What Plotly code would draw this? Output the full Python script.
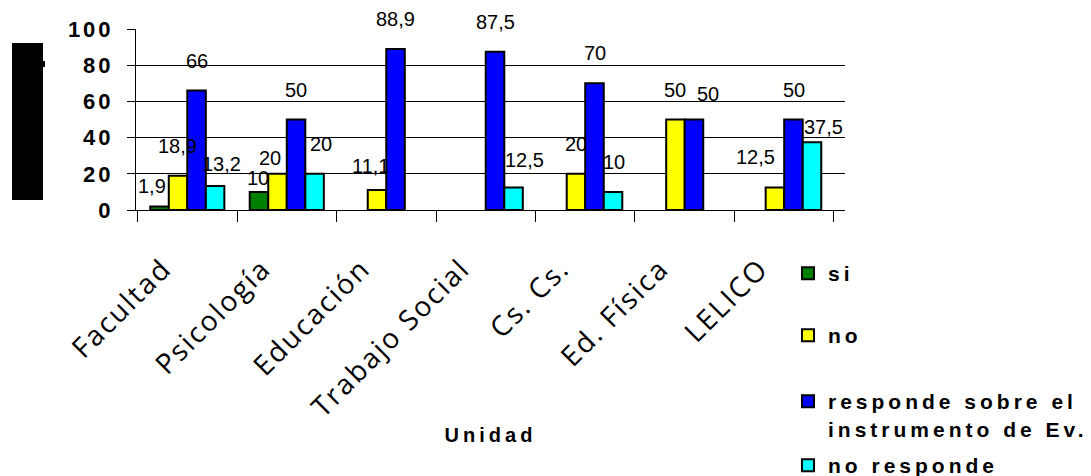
import plotly.graph_objects as go

# Units surveyed and answer categories
unidades = ["Facultad", "Psicología", "Educación", "Trabajo Social", "Cs. Cs.", "Ed. Física", "LELICO"]
series_names = ["si", "no", "responde sobre el instrumento de Ev.", "no responde"]
legend_lines = [["si"], ["no"], ["responde sobre el", "instrumento de Ev."], ["no responde"]]

# Percentages per unit (None = no bar)
si = [1.9, 10, None, None, None, None, None]
no = [18.9, 20, 11.1, None, 20, 50, 12.5]
responde = [66, 50, 88.9, 87.5, 70, 50, 50]
no_responde = [13.2, 20, None, 12.5, 10, None, 37.5]

y_ticks = [0, 20, 40, 60, 80, 100]

colors = ["#008000", "#FFFF00", "#0000FF", "#00FFFF"]
series_values = [si, no, responde, no_responde]

# Frame geometry (pixels)
W, H = 1091, 476
M_L, M_R, M_T, M_B = 136, 246, 29, 266
PW = W - M_L - M_R
PH = H - M_T - M_B
BARGAP = 0.255


def px(x):
    return (x - M_L) / PW


def py(y):
    return (M_T + PH - y) / PH


def spaced(text, sp):
    return f'<span style="letter-spacing:{sp}px">{text}</span>'


def fmt(v):
    return f"{v:g}".replace(".", ",")


fig = go.Figure()
legend_ids = ["legend", "legend2", "legend3", "legend4"]
for name, vals, col, lid, lines in zip(series_names, series_values, colors, legend_ids, legend_lines):
    fig.add_trace(go.Bar(
        x=unidades, y=vals, name="<br>".join(spaced(f"<b>{t}</b>", 4) for t in lines),
        marker=dict(color=col, line=dict(color="black", width=2)),
        legend=lid, showlegend=True, hoverinfo="skip",
    ))

# Hand-placed value labels: pixel nudges (dx, dy) for crowded spots
label_nudge = {
    (0, 0): (-7, -9), (0, 1): (0, -16),
    (1, 1): (-7, -14), (1, 2): (-6, -6), (1, 6): (-19, 0),
    (2, 5): (14, -4),
    (3, 0): (6, -8), (3, 1): (6, 0), (3, 3): (10, -3), (3, 6): (11, -15),
}
slot_w = PW / len(unidades) * (1 - BARGAP) / len(series_values)
annotations = []
for s, vals in enumerate(series_values):
    for c, v in enumerate(vals):
        if v is None:
            continue
        dx, dy = label_nudge.get((s, c), (0, 0))
        annotations.append(dict(
            x=unidades[c], y=v, xref="x", yref="y", text=fmt(v), showarrow=False,
            xanchor="center", yanchor="bottom",
            xshift=(s - (len(series_values) - 1) / 2) * slot_w + dx, yshift=17 + dy,
            font=dict(family="Liberation Sans, Arial", size=20, color="black"),
        ))

fig.update_layout(
    width=W, height=H, margin=dict(l=M_L, r=M_R, t=M_T, b=M_B, autoexpand=False),
    paper_bgcolor="white", plot_bgcolor="white", showlegend=True,
    barmode="group", bargap=BARGAP, bargroupgap=0,
    annotations=annotations,
    xaxis=dict(
        type="category", showline=True, linecolor="black", linewidth=1,
        ticks="outside", tickson="boundaries", ticklen=11, tickcolor="black",
        tickangle=-45, ticklabelstandoff=30, ticklabelshift=-24,
        tickvals=unidades, ticktext=[spaced(u, 2) for u in unidades],
        tickfont=dict(family="Open Sans", size=28, color="black"),
        showgrid=False, automargin=False,
        title=dict(text=spaced("<b>Unidad</b>", 4),
                   font=dict(family="Liberation Sans, Arial", size=20, color="black"),
                   standoff=4),
    ),
    yaxis=dict(
        range=[0, 100], tickvals=y_ticks, ticktext=[spaced(f"<b>{t}</b>", 3) for t in y_ticks],
        showline=True, linecolor="black", linewidth=1,
        ticks="outside", ticklen=8, tickcolor="black", ticklabelstandoff=9,
        tickfont=dict(family="Liberation Sans, Arial", size=22, color="black"),
        showgrid=True, gridcolor="black", gridwidth=1, zeroline=False, automargin=False,
    ),
    shapes=[
        dict(type="rect", xref="paper", yref="paper", x0=px(12), x1=px(43), y0=py(200), y1=py(43),
             fillcolor="black", line=dict(width=0)),
        dict(type="rect", xref="paper", yref="paper", x0=px(43), x1=px(45), y0=py(67), y1=py(61),
             fillcolor="black", line=dict(width=0)),
    ],
)

legend_marker_y = [273, 335, 401, 465]
legend_style = dict(font=dict(family="Liberation Sans, Arial", size=21, color="black"),
                    bgcolor="rgba(0,0,0,0)", borderwidth=0, valign="top",
                    xanchor="left", yanchor="top")
for lid, my in zip(legend_ids, legend_marker_y):
    fig.update_layout({lid: dict(x=px(788), y=py(my - 20), **legend_style)})

fig.write_html("out.html")
